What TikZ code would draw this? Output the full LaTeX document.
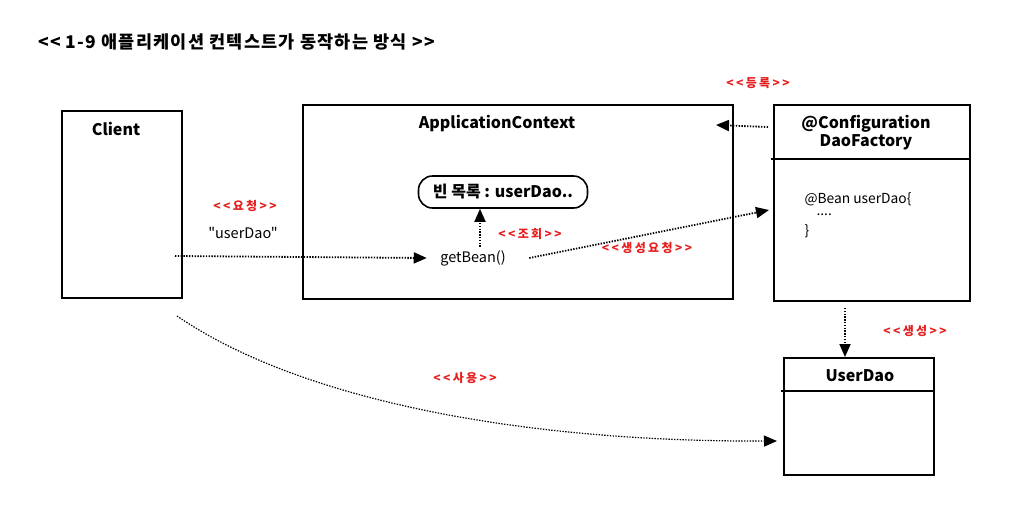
\documentclass[tikz,border=0pt]{standalone}
\usepackage{fontspec}
\setmainfont{Noto Sans CJK KR}[Ligatures=TeXOff]
\newfontfamily\lblfont{Noto Sans CJK KR}[Ligatures=TeXOff, LetterSpace=20]
\newfontfamily\ttlfont{Noto Sans CJK KR}[Ligatures=TeXOff, LetterSpace=7]
\usetikzlibrary{arrows.meta}
\definecolor{lblred}{RGB}{230,30,30}
\tikzset{
  box/.style={draw, line width=1.6pt},
  dline/.style={line width=1.8pt, dash pattern=on 1.4pt off 1.4pt, -{Triangle[length=13pt,width=11pt]}},
  lbl/.style={text=lblred, font=\lblfont\fontsize{12}{13}\selectfont\bfseries},
  txt/.style={font=\fontsize{14.5}{16}\selectfont},
  btxt/.style={font=\fontsize{16}{18}\selectfont\bfseries},
  code/.style={font=\fontsize{13.8}{15}\selectfont, anchor=west},
}
\begin{document}
\begin{tikzpicture}[x=1pt,y=-1pt]
\useasboundingbox (0,0) rectangle (1013,504);
\node[font=\ttlfont\fontsize{17.5}{19}\selectfont\bfseries, anchor=west, inner sep=0pt] (title) at (38,42) {<< 1-9 애플리케이션 컨텍스트가 동작하는 방식 >>};
% Client
\draw[box] (62,111) rectangle (182,298);
\node[btxt] (client) at (116,129) {Client};
\coordinate (cl1) at (175,256);
\coordinate (cl2) at (177,316);
% ApplicationContext
\draw[box] (303,105) rectangle (733,299);
\node[btxt] (ac) at (497,124) {ApplicationContext};
\node[draw, line width=1.6pt, rounded corners=14pt, minimum width=169pt, minimum height=32pt, font=\fontsize{16}{17}\selectfont\bfseries, inner sep=2pt] (bean) at (503,192) {빈 목록 : userDao..};
\node[txt] (gb) at (473,258) {getBean()};
\coordinate (acR) at (716,125);
% Config
\draw[box] (774,105) rectangle (970,301);
\draw[box] (771,159) -- (970,159);
\node[btxt, align=center] (cfg) at (866,133) {@Configuration\\DaoFactory};
\node[code] (c1) at (801,199) {@Bean userDao\{};
\node[code] (c2) at (813,215) {....};
\node[code] (c3) at (801,231) {\}};
\coordinate (cfgL) at (768,127);
\coordinate (cfgT) at (769,210);
\coordinate (cfgB) at (845,308);
% UserDao
\draw[box] (784,358) rectangle (934,475);
\draw[box] (781,391) -- (934,391);
\node[btxt] (ud) at (860,376) {UserDao};
\coordinate (udT) at (845,357);
\coordinate (udL) at (777,441);
% arrows
\draw[dline] (cl1) -- ([xshift=-10pt]gb.west);
\draw[dline] ([xshift=7pt]gb.north) -- ([xshift=7pt]gb.north |- bean.south);
\draw[dline] ([xshift=20pt]gb.east) -- (cfgT);
\draw[dline] (cfgL) -- (acR);
\draw[dline] (cfgB) -- (udT);
\draw[dline, line width=1.2pt] (cl2) .. controls (300,400) and (520,442) .. (udL);
% labels
\node[lbl] (l1) at (245,206) {<<요청>>};
\node[txt] (l2) at (243,233) {"userDao"};
\node[lbl] (l3) at (530,234) {<<조회>>};
\node[lbl] (l4) at (647,248) {<<생성요청>>};
\node[lbl] (l5) at (758,83) {<<등록>>};
\node[lbl] (l6) at (915,331) {<<생성>>};
\node[lbl] (l7) at (465,378) {<<사용>>};
\end{tikzpicture}
\end{document}
